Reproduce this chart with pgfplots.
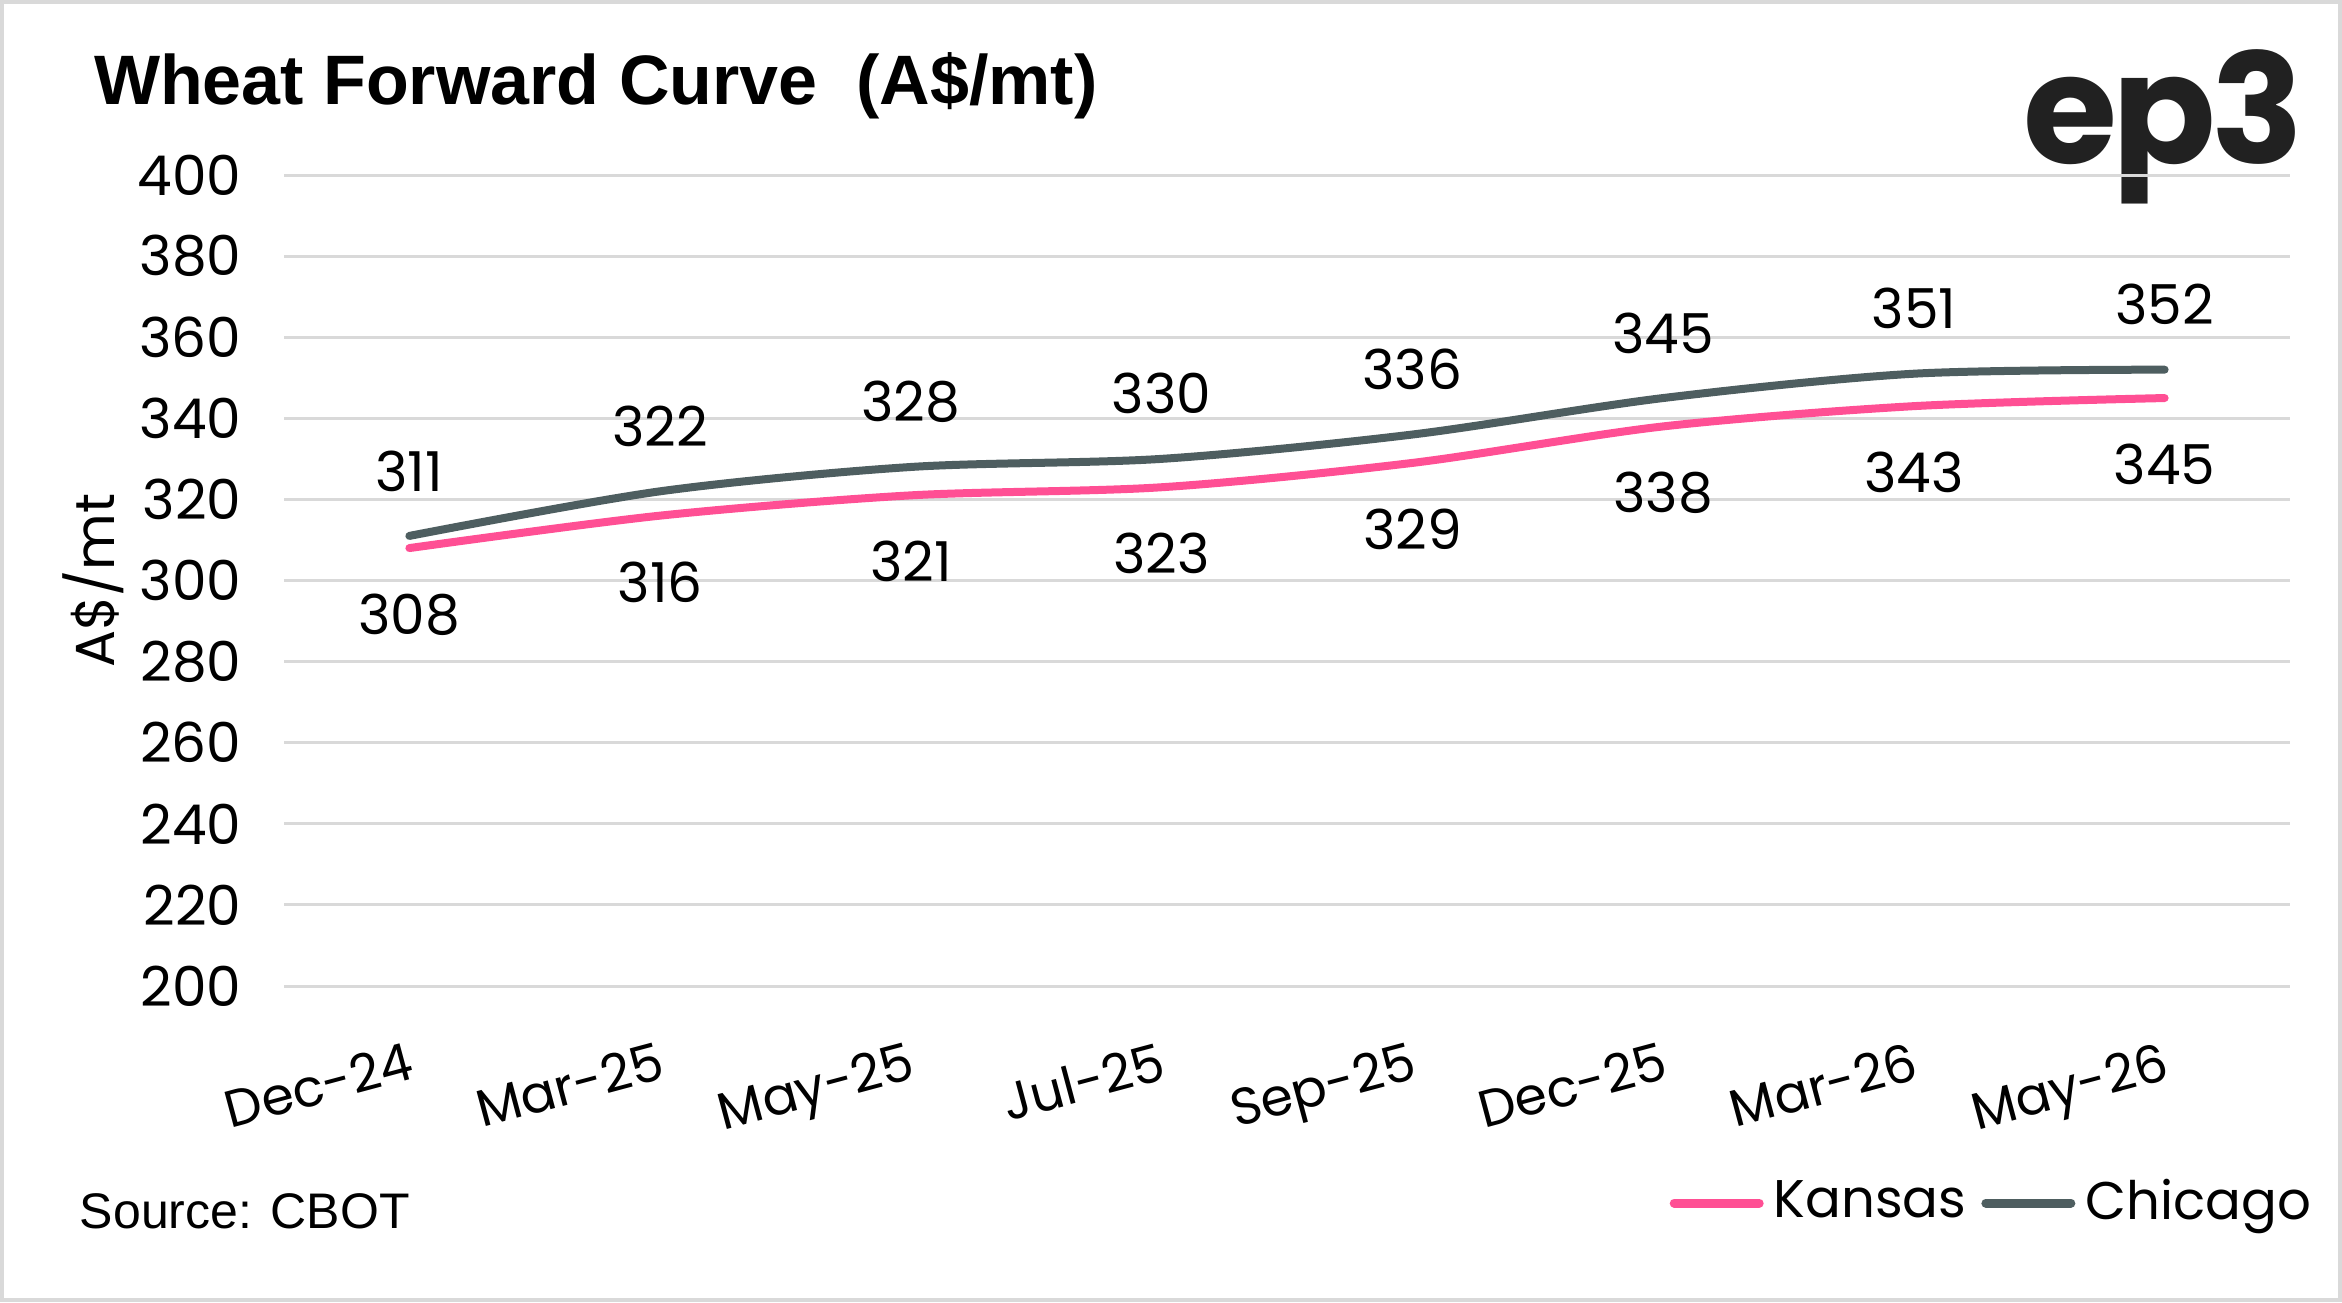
\documentclass[border=0pt]{standalone}
\usepackage{pgfplots}
\pgfplotsset{compat=1.18}
\usepackage{fontspec}
\setmainfont{Poppins}
\newfontfamily\titlefont{Liberation Sans}
\newfontfamily\logofont[LetterSpace=-3]{Poppins}
\definecolor{kansas}{HTML}{FF4F94}
\definecolor{chicago}{HTML}{4E5E60}
\definecolor{gridc}{HTML}{D9D9D9}
\begin{document}
\begin{tikzpicture}
\path[use as bounding box] (0,0) rectangle (468.4pt,260.4pt);
\draw[gridc, line width=0.8pt] (0.4pt,0.4pt) rectangle (468.0pt,260.0pt);
\node[anchor=base west, inner sep=0pt, font=\titlefont\bfseries\fontsize{14}{16}\selectfont] at (18.6pt,239.4pt) {Wheat Forward Curve\ \ (A\$/mt)};
\node[anchor=base east, inner sep=0pt, text=black!87, font=\logofont\bfseries\fontsize{30.5}{34}\selectfont] at (461pt,227.6pt) {ep3};
\node[anchor=base west, inner sep=0pt, font=\titlefont\fontsize{10}{12}\selectfont] at (15.8pt,14.8pt) {Source: CBOT};
\begin{axis}[
  at={(56.8pt,63.2pt)}, anchor=south west,
  scale only axis, width=401.2pt, height=162.2pt,
  xmin=-0.5, xmax=7.5, ymin=200, ymax=400,
  ytick={200,220,...,400},
  xtick={0,...,7},
  xticklabels={Dec-24,Mar-25,May-25,Jul-25,Sep-25,Dec-25,Mar-26,May-26},
  axis line style={draw=none},
  major tick length=0pt,
  ymajorgrids, grid style={gridc, line width=0.6pt},
  tick label style={font=\fontsize{11}{13}\selectfont},
  /pgf/number format/assume math mode=true,
  yticklabel style={xshift=-5pt},
  xticklabel style={rotate=15, anchor=north east, yshift=-7pt, xshift=0pt, font=\fontsize{10.4}{12}\selectfont},
  ylabel={A\$/mt},
  ylabel style={at={(axis description cs:-0.0952,0.5)}, anchor=center, font=\fontsize{11}{13}\selectfont},
  clip=false,
  legend columns=2,
  legend style={at={(axis description cs:1,0)}, anchor=east, xshift=6.4pt, yshift=-43.4pt, draw=none, fill=none,
    font=\fontsize{10.6}{13}\selectfont, inner sep=0pt,
    /tikz/every even column/.append style={column sep=1pt}},
  legend image code/.code={\draw[line width=1.8pt, line cap=round] (0pt,0pt) -- (17pt,0pt);},
  nodes near coords,
  every node near coord/.append style={font=\fontsize{11}{13}\selectfont, text=black, anchor=center},
]
\addplot[kansas, line width=1.6pt, smooth, tension=0.5, line cap=round,
  every node near coord/.append style={yshift=-13.3pt}]
  coordinates {(0,308) (1,316) (2,321) (3,323) (4,329) (5,338) (6,343) (7,345)};
\addlegendentry{Kansas}
\addplot[chicago, line width=1.6pt, smooth, tension=0.5, line cap=round,
  every node near coord/.append style={yshift=13pt}]
  coordinates {(0,311) (1,322) (2,328) (3,330) (4,336) (5,345) (6,351) (7,352)};
\addlegendentry{Chicago}
\end{axis}
\end{tikzpicture}
\end{document}
